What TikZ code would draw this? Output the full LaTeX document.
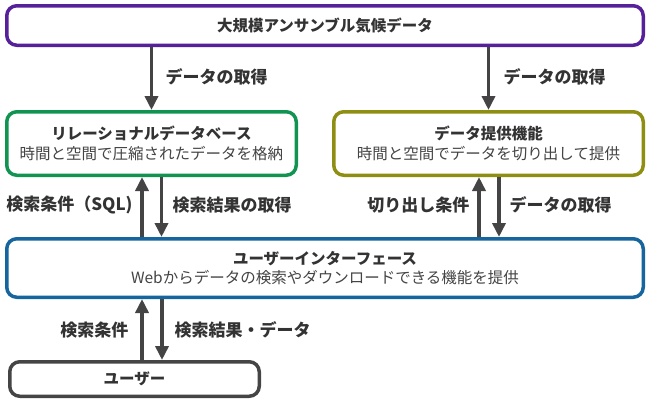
\documentclass[tikz,border=0pt]{standalone}
\usepackage{fontspec}
\setmainfont{Noto Sans CJK JP}
\usepackage{tikz}
\definecolor{ink}{HTML}{333333}
\definecolor{subink}{HTML}{444444}
\definecolor{arrowink}{HTML}{444444}
\definecolor{boxpurple}{HTML}{56209A}
\definecolor{boxgreen}{HTML}{119452}
\definecolor{boxolive}{HTML}{8E8E12}
\definecolor{boxblue}{HTML}{16659E}
\definecolor{boxgray}{HTML}{454545}
\usetikzlibrary{
  arrows.meta,
  positioning,
  calc
}
\newcommand{\boxtitle}[1]{{\fontsize{15.5}{18}\selectfont\bfseries #1}}
\newcommand{\boxsub}[1]{{\fontsize{15.5}{18}\selectfont\color{subink} #1}}
\tikzset{
  every picture/.style={line join=round},
  every node/.style={text=ink},
  block/.style={
    draw=boxgray,
    fill=white,
    rounded corners=10pt,
    line width=3.5pt,
    align=center,
    inner sep=0pt
  },
  blockP/.style={block, draw=boxpurple},
  blockG/.style={block, draw=boxgreen},
  blockO/.style={block, draw=boxolive},
  blockB/.style={block, draw=boxblue},
  flow/.style={-{Triangle[width=13pt,length=14pt]}, line width=3.5pt, draw=arrowink},
  annot/.style={font=\fontsize{17}{20}\selectfont\bfseries, text=ink}
}

\begin{document}
\begin{tikzpicture}[x=1pt, y=-1pt]
  \useasboundingbox (0,0) rectangle (648,402);

  \node[blockP, minimum width=636.5pt, minimum height=39.5pt] (source) at (325,25.5)
    {\boxtitle{大規模アンサンブル気候データ}};
  \node[blockG, minimum width=289.5pt, minimum height=63.5pt] (rdb) at (151.5,143.5)
    {\boxtitle{リレーショナルデータベース}\\[4pt]
     \boxsub{時間と空間で圧縮されたデータを格納}};
  \node[blockO, minimum width=309.5pt, minimum height=63.5pt] (provide) at (488.5,143.5)
    {\boxtitle{データ提供機能}\\[4pt]
     \boxsub{時間と空間でデータを切り出して提供}};
  \node[blockB, minimum width=636.5pt, minimum height=58.5pt] (ui) at (325,268)
    {\boxtitle{ユーザーインターフェース}\\[4pt]
     \boxsub{Webからデータの検索やダウンロードできる機能を提供}};
  \node[block, minimum width=249.5pt, minimum height=34.5pt] (user) at (134.5,379)
    {\boxtitle{ユーザー}};

  % source -> rdb / provide
  \draw[flow] (source.south -| rdb.north) -- (rdb.north);
  \draw[flow] (source.south -| provide.north) -- (provide.north);
  \node[annot, anchor=west] at (162,77) {データの取得};
  \node[annot, anchor=west] at (500,77) {データの取得};

  % rdb <-> ui
  \draw[flow] ([xshift=-9.5pt]rdb.south |- ui.north) -- ([xshift=-9.5pt]rdb.south);
  \draw[flow] ([xshift=10pt]rdb.south) -- ([xshift=10pt]rdb.south |- ui.north);
  \node[annot, anchor=east] at (136,205) {検索条件（SQL)};
  \node[annot, anchor=west] at (169,205) {検索結果の取得};

  % provide <-> ui
  \draw[flow] ([xshift=-9.5pt]provide.south |- ui.north) -- ([xshift=-9.5pt]provide.south);
  \draw[flow] ([xshift=10.5pt]provide.south) -- ([xshift=10.5pt]provide.south |- ui.north);
  \node[annot, anchor=east] at (473,205) {切り出し条件};
  \node[annot, anchor=west] at (506,205) {データの取得};

  % ui <-> user
  \draw[flow] ([xshift=7.5pt]user.north) -- ([xshift=7.5pt]user.north |- ui.south);
  \draw[flow] ([xshift=27.5pt]user.north |- ui.south) -- ([xshift=27.5pt]user.north);
  \node[annot, anchor=east] at (132,330) {検索条件};
  \node[annot, anchor=west] at (171,330) {検索結果・データ};
\end{tikzpicture}
\end{document}
